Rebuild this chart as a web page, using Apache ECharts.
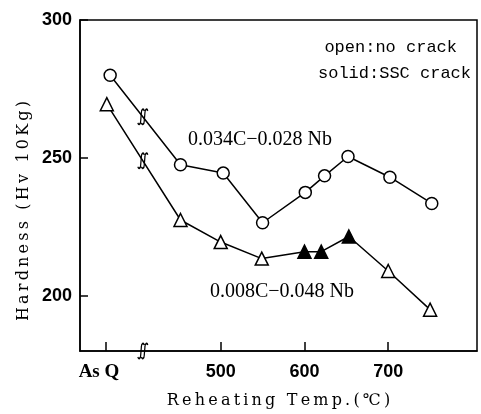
<!DOCTYPE html>
<html>
<head>
<meta charset="utf-8">
<script src="https://cdn.jsdelivr.net/npm/echarts@6/dist/echarts.min.js"></script>
<style>
  html, body {margin: 0; padding: 0; background: #fff;}
  #chart {width: 481px; height: 414px;}
</style>
</head>
<body>
<div id="chart"></div>
<script>
  // x 軸: As Q は 363 の位置, 407 に軸の切れ目
  var AS_Q = 363;
  var BREAK_T = 407;
  var tempTicks = [AS_Q, 500, 600, 700];
  var hardTicks = [200, 250, 300];

  // 0.034C-0.028Nb (open circle)
  var tempNb028 = [368, 452, 503, 550, 601, 624, 652, 702, 752];
  var hardNb028 = [280, 247.5, 244.5, 226.5, 237.5, 243.5, 250.5, 243, 233.5];

  // 0.008C-0.048Nb (triangle, solid = SSC crack)
  var tempNb048 = [364, 452, 500, 549, 600, 620, 653, 700, 750];
  var hardNb048 = [269.5, 227.5, 219.5, 213.5, 216, 216, 221.5, 209, 195];
  var crackNb048 = [0, 0, 0, 0, 1, 1, 1, 0, 0];

  var squiggle = 'path://M0,17 C1,20 4,19 4,15 L5,5 C5,1 8,0 9,3 M5,17 C6,20 9,19 9,15 L10,5 C10,1 13,0 14,3';

  function pairs(xs, ys) {
    return xs.map(function (x, i) { return [x, ys[i]]; });
  }
  // 切れ目の位置での線上の値
  function breakY(xs, ys) {
    var r = (BREAK_T - xs[0]) / (xs[1] - xs[0]);
    return ys[0] + (ys[1] - ys[0]) * r;
  }
  function breakMark(y) {
    return {
      coord: [BREAK_T, y], symbol: squiggle, symbolSize: [10, 15],
      itemStyle: {color: 'none', borderColor: '#000', borderWidth: 1.5},
      label: {show: false}
    };
  }
  // 字間をあける
  function spaced(s) {
    return s.split('').join('\u2009');
  }

  var chart = echarts.init(document.getElementById('chart'));
  var serif = 'Liberation Serif';

  var option = {
    animation: false,
    backgroundColor: '#fff',
    grid: {left: 80, top: 20, right: 4, bottom: 62, show: true, borderColor: '#000', borderWidth: 1.5},
    xAxis: {
      type: 'value', min: 332, max: 806,
      name: spaced('Reheating Temp.(℃)'), nameLocation: 'middle', nameGap: 42,
      nameTextStyle: {fontFamily: 'DejaVu Serif', fontSize: 16, color: '#000'},
      axisLine: {lineStyle: {color: '#000', width: 1.5}},
      axisTick: {inside: true, length: 9, customValues: tempTicks, lineStyle: {color: '#000', width: 1.5}},
      axisLabel: {
        customValues: tempTicks, margin: 12, color: '#000',
        fontFamily: 'Liberation Sans', fontWeight: 'bold', fontSize: 18,
        formatter: function (v) { return v === AS_Q ? '{q|As Q}' : v; },
        rich: {q: {fontFamily: serif, fontWeight: 'bold', fontSize: 19, color: '#000', padding: [0, 14, 0, 0]}}
      },
      splitLine: {show: false}
    },
    yAxis: {
      type: 'value', min: 180, max: 300,
      axisLine: {lineStyle: {color: '#000', width: 1.5}},
      axisTick: {inside: true, length: 8, customValues: hardTicks, lineStyle: {color: '#000', width: 1.5}},
      axisLabel: {customValues: hardTicks, margin: 8, color: '#000', fontFamily: 'Liberation Sans', fontWeight: 'bold', fontSize: 18},
      splitLine: {show: false}
    },
    graphic: [
      {type: 'text', x: 24, y: 211, rotation: Math.PI / 2,
        style: {text: spaced('Hardness (Hv 10Kg)'), fontFamily: 'DejaVu Serif', fontSize: 16, fill: '#000', align: 'center', verticalAlign: 'middle'}},
      {type: 'text', x: 188, y: 140,
        style: {text: '0.034C−0.028 Nb', fontFamily: serif, fontSize: 20, fill: '#000', verticalAlign: 'middle'}},
      {type: 'text', x: 210, y: 292,
        style: {text: '0.008C−0.048 Nb', fontFamily: serif, fontSize: 20, fill: '#000', verticalAlign: 'middle'}},
      {type: 'text', x: 457, y: 47,
        style: {text: 'open:no crack', fontFamily: 'Liberation Mono', fontSize: 17, fill: '#000', align: 'right', verticalAlign: 'middle'}},
      {type: 'text', x: 471, y: 73,
        style: {text: 'solid:SSC crack', fontFamily: 'Liberation Mono', fontSize: 17, fill: '#000', align: 'right', verticalAlign: 'middle'}}
    ],
    series: [
      {
        name: '0.034C-0.028Nb', type: 'line',
        data: pairs(tempNb028, hardNb028),
        symbol: 'circle', symbolSize: 12,
        lineStyle: {color: '#000', width: 1.5},
        itemStyle: {color: '#fff', borderColor: '#000', borderWidth: 1.5},
        markPoint: {data: [breakMark(breakY(tempNb028, hardNb028)), breakMark(180)]}
      },
      {
        name: '0.008C-0.048Nb', type: 'line',
        data: tempNb048.map(function (t, i) {
          return {value: [t, hardNb048[i]], itemStyle: {color: crackNb048[i] ? '#000' : '#fff'}};
        }),
        symbol: 'triangle', symbolSize: 13,
        lineStyle: {color: '#000', width: 1.5},
        itemStyle: {borderColor: '#000', borderWidth: 1.5},
        markPoint: {data: [breakMark(breakY(tempNb048, hardNb048))]}
      }
    ]
  };

  chart.setOption(option);
  window.addEventListener('resize', function () {
    chart.resize();
  });
</script>
</body>
</html>
